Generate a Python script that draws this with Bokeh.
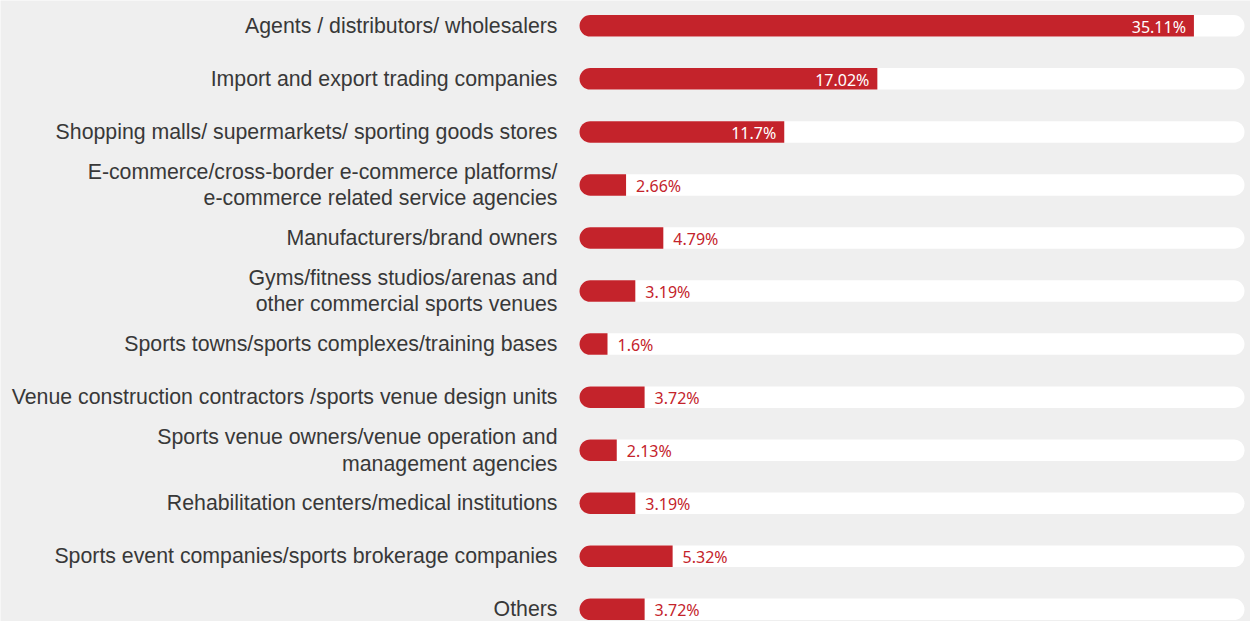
from bokeh.plotting import figure
from bokeh.models import ColumnDataSource, Range1d
from bokeh.core.properties import value
from bokeh.embed import file_html
from bokeh.resources import INLINE

categories = [
    "Agents / distributors/ wholesalers",
    "Import and export trading companies",
    "Shopping malls/ supermarkets/ sporting goods stores",
    "E-commerce/cross-border e-commerce platforms/\ne-commerce related service agencies",
    "Manufacturers/brand owners",
    "Gyms/fitness studios/arenas and\nother commercial sports venues",
    "Sports towns/sports complexes/training bases",
    "Venue construction contractors /sports venue design units",
    "Sports venue owners/venue operation and\nmanagement agencies",
    "Rehabilitation centers/medical institutions",
    "Sports event companies/sports brokerage companies",
    "Others",
]
shares = [35.11, 17.02, 11.7, 2.66, 4.79, 3.19, 1.6, 3.72, 2.13, 3.19, 5.32, 3.72]
value_labels = ["35.11%", "17.02%", "11.7%", "2.66%", "4.79%", "3.19%",
                "1.6%", "3.72%", "2.13%", "3.19%", "5.32%", "3.72%"]
track_max = 38.0

W, H = 1250, 621
px_per_unit = 17.5
x0_px = 579
row0_px, row_step = 25.3, 53.05

RED = "#c4232b"
BG = "#efefef"

rows = list(range(len(categories)))
src = ColumnDataSource(dict(
    y=rows, v=shares, lab=value_labels, cat=categories,
    track=[track_max] * len(rows), zero=[0] * len(rows),
))
inside = [i for i, s in enumerate(shares) if s >= 10]
outside = [i for i, s in enumerate(shares) if s < 10]
src_in = ColumnDataSource(dict(y=[rows[i] for i in inside],
                               v=[shares[i] for i in inside],
                               lab=[value_labels[i] for i in inside]))
src_out = ColumnDataSource(dict(y=[rows[i] for i in outside],
                                v=[shares[i] for i in outside],
                                lab=[value_labels[i] for i in outside]))

x_start = -x0_px / px_per_unit
x_end = (W - x0_px) / px_per_unit
y_top = -row0_px / row_step
y_bottom = (H - row0_px) / row_step

p = figure(width=W, height=H, output_backend="svg", toolbar_location=None,
           x_range=Range1d(x_start, x_end), y_range=Range1d(y_bottom, y_top),
           min_border=0, background_fill_color=BG, border_fill_color=BG,
           outline_line_color=None)
p.axis.visible = False
p.grid.visible = False

bar_h = 21.5 / row_step

p.hbar(y="y", left="zero", right="track", height=bar_h, source=src,
       fill_color="white", line_color=None, border_radius=11)
p.hbar(y="y", left="zero", right="v", height=bar_h, source=src,
       fill_color=RED, line_color=None, border_radius=(11, 0, 0, 11))

p.text(x=-(x0_px - 557) / px_per_unit, y="y", text="cat", source=src,
       text_align="right", text_baseline="middle",
       text_font=value("Liberation Sans"), text_font_size="21.3px",
       text_color="#383838", text_line_height=1.12)

p.text(x="v", y="y", text="lab", source=src_in, x_offset=-8, y_offset=1,
       text_align="right", text_baseline="middle",
       text_font=value("Noto Sans"), text_font_size="16px", text_color="white")
p.text(x="v", y="y", text="lab", source=src_out, x_offset=10, y_offset=1,
       text_align="left", text_baseline="middle",
       text_font=value("Noto Sans"), text_font_size="16px", text_color=RED)

open("out.html", "w").write(file_html(p, INLINE))
